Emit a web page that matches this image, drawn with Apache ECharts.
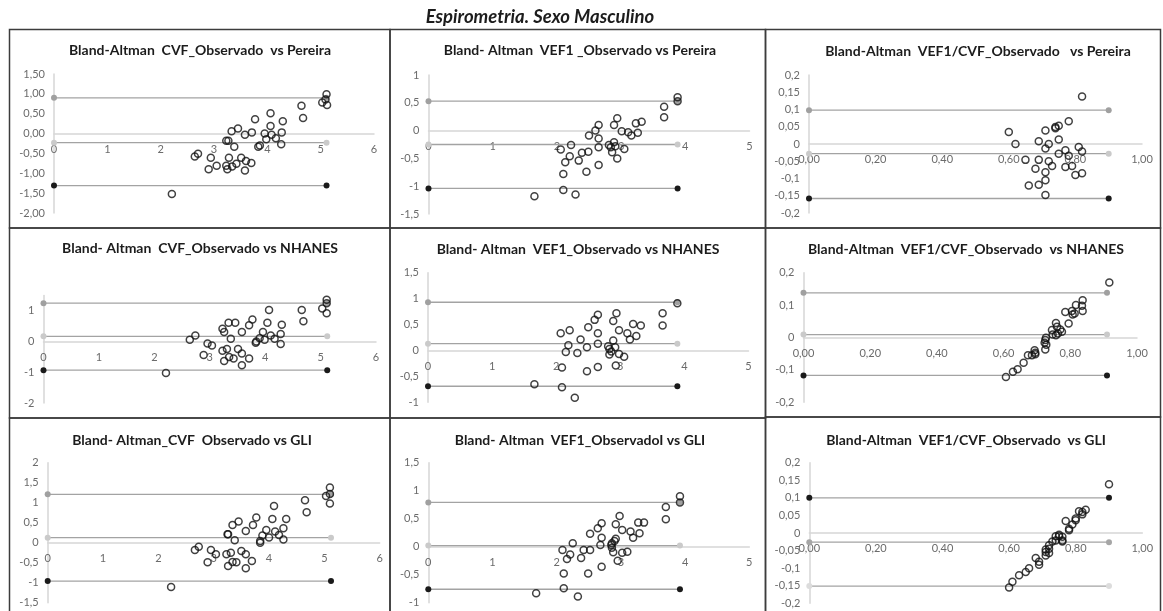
<!DOCTYPE html>
<html lang="es">
<head>
<meta charset="UTF-8">
<title>Espirometria. Sexo Masculino</title>
<script src="https://cdn.jsdelivr.net/npm/echarts@6/dist/echarts.min.js"></script>
<style>
  body { margin: 0; background: #fff; }
  #chart { width: 1163px; height: 611px; }
</style>
</head>
<body>
<div id="chart"></div>
<script>
// diferencias (x = media, y = diferencia)
const cvfPereira = [[5.11,0.99],[5.09,0.86],[5.03,0.78],[5.12,0.72],[4.64,0.70],[4.67,0.39],[4.06,0.51],[3.77,0.36],[4.29,0.31],[4.06,0.19],[3.45,0.13],[3.33,0.06],[3.71,0.03],[3.58,-0.03],[3.95,0.00],[4.08,-0.03],[4.27,0.03],[3.98,-0.14],[4.16,-0.12],[4.26,-0.27],[3.23,-0.18],[3.27,-0.18],[3.38,-0.33],[3.83,-0.33],[3.86,-0.30],[2.70,-0.51],[2.64,-0.58],[2.94,-0.61],[3.28,-0.61],[3.51,-0.61],[3.60,-0.69],[3.70,-0.74],[3.42,-0.76],[3.34,-0.83],[3.23,-0.81],[3.05,-0.81],[2.90,-0.90],[3.25,-0.90],[3.58,-0.93],[2.21,-1.52]];
const vef1Pereira = [[3.88,0.60],[3.88,0.53],[3.67,0.43],[3.67,0.24],[3.32,0.16],[3.23,0.13],[2.94,0.22],[2.89,0.10],[2.65,0.10],[2.60,0.00],[3.01,-0.01],[3.11,-0.03],[3.26,-0.04],[3.16,-0.09],[2.50,-0.09],[2.65,-0.14],[2.89,-0.21],[2.65,-0.30],[2.81,-0.26],[2.84,-0.30],[2.91,-0.28],[3.05,-0.33],[2.86,-0.39],[2.94,-0.50],[2.22,-0.26],[2.06,-0.34],[2.49,-0.38],[2.39,-0.40],[2.20,-0.46],[2.13,-0.57],[2.34,-0.54],[2.65,-0.62],[2.46,-0.74],[2.10,-0.78],[2.10,-1.07],[2.29,-1.15],[1.65,-1.18]];
const ratioPereira = [[0.82,0.138],[0.78,0.066],[0.75,0.053],[0.74,0.049],[0.74,0.046],[0.71,0.039],[0.60,0.035],[0.75,0.013],[0.69,0.008],[0.72,0.000],[0.62,0.000],[0.71,-0.013],[0.77,-0.018],[0.81,-0.009],[0.82,-0.022],[0.75,-0.028],[0.78,-0.034],[0.72,-0.050],[0.65,-0.046],[0.69,-0.046],[0.73,-0.064],[0.79,-0.064],[0.77,-0.067],[0.68,-0.072],[0.71,-0.082],[0.82,-0.085],[0.80,-0.090],[0.71,-0.105],[0.69,-0.118],[0.66,-0.120],[0.71,-0.148]];
const cvfNhanes = [[5.11,1.36],[5.11,1.25],[5.03,1.08],[5.11,0.92],[4.66,1.03],[4.69,0.66],[4.07,1.03],[3.77,0.72],[3.71,0.53],[4.04,0.61],[4.30,0.55],[3.34,0.61],[3.46,0.61],[3.23,0.42],[3.26,0.31],[3.58,0.31],[3.38,0.09],[3.96,0.31],[4.10,0.20],[4.28,0.25],[4.17,0.09],[3.99,0.06],[3.90,0.11],[3.83,-0.04],[3.84,0.00],[4.28,-0.08],[2.74,0.20],[2.64,0.06],[2.96,-0.06],[3.04,-0.13],[2.89,-0.44],[3.23,-0.30],[3.31,-0.24],[3.51,-0.24],[3.58,-0.39],[3.35,-0.50],[3.43,-0.55],[3.71,-0.55],[3.26,-0.63],[3.58,-0.77],[2.21,-1.02]];
const vef1Nhanes = [[3.89,0.91],[3.66,0.72],[3.66,0.48],[3.32,0.48],[3.20,0.51],[2.94,0.72],[2.89,0.57],[2.65,0.69],[2.60,0.59],[2.50,0.45],[2.65,0.33],[2.98,0.39],[3.11,0.33],[3.25,0.28],[3.15,0.21],[2.89,0.19],[2.65,0.13],[2.38,0.21],[2.21,0.39],[2.07,0.33],[2.19,0.10],[2.15,-0.03],[2.33,-0.05],[2.48,0.06],[2.81,0.08],[2.83,0.03],[2.86,-0.02],[2.92,0.06],[2.83,-0.08],[2.98,-0.07],[3.06,-0.12],[2.93,-0.29],[2.65,-0.32],[2.09,-0.33],[2.48,-0.40],[1.66,-0.65],[2.09,-0.71],[2.29,-0.91]];
const ratioNhanes = [[0.917,0.170],[0.837,0.115],[0.817,0.100],[0.835,0.098],[0.837,0.082],[0.805,0.082],[0.807,0.071],[0.785,0.079],[0.813,0.074],[0.795,0.043],[0.757,0.045],[0.770,0.025],[0.745,0.023],[0.775,0.018],[0.763,0.012],[0.757,0.007],[0.747,0.009],[0.727,-0.001],[0.725,-0.008],[0.723,-0.016],[0.728,-0.022],[0.725,-0.037],[0.693,-0.039],[0.695,-0.052],[0.685,-0.055],[0.673,-0.055],[0.660,-0.078],[0.642,-0.098],[0.628,-0.106],[0.607,-0.122],[0.695,-0.047],[0.760,0.033]];
const cvfGli = [[5.10,1.38],[5.03,1.17],[5.10,1.22],[5.10,0.98],[4.65,1.06],[4.68,0.76],[4.09,0.92],[4.06,0.59],[4.31,0.59],[3.77,0.63],[3.71,0.44],[3.95,0.32],[4.26,0.36],[4.11,0.28],[4.18,0.19],[4.26,0.08],[4.00,0.13],[3.88,0.18],[3.84,0.04],[3.84,0.00],[3.45,0.53],[3.34,0.44],[3.58,0.29],[3.25,0.21],[3.26,0.21],[3.38,0.06],[2.73,-0.10],[2.66,-0.18],[2.95,-0.18],[3.04,-0.29],[2.89,-0.49],[3.23,-0.29],[3.31,-0.25],[3.50,-0.21],[3.58,-0.29],[3.34,-0.48],[3.41,-0.49],[3.69,-0.46],[3.26,-0.58],[3.58,-0.64],[2.23,-1.11]];
const vef1Gli = [[3.92,0.90],[3.92,0.79],[3.70,0.71],[3.70,0.49],[3.36,0.43],[3.27,0.43],[3.29,0.24],[3.19,0.16],[3.15,0.27],[3.02,0.30],[2.98,0.55],[2.92,0.40],[2.92,0.14],[2.90,0.10],[2.86,0.06],[2.85,0.03],[2.86,-0.02],[2.88,-0.10],[2.95,-0.25],[3.02,-0.11],[3.10,-0.09],[2.70,0.42],[2.64,0.33],[2.70,0.16],[2.68,0.03],[2.70,-0.36],[2.52,0.23],[2.52,-0.06],[2.42,-0.06],[2.38,-0.20],[2.25,0.06],[2.21,-0.14],[2.16,-0.22],[2.09,-0.06],[2.11,-0.48],[2.49,-0.48],[2.11,-0.74],[2.33,-0.89],[1.68,-0.83]];
const ratioGli = [[0.90,0.139],[0.83,0.066],[0.82,0.060],[0.81,0.062],[0.82,0.053],[0.80,0.041],[0.80,0.036],[0.77,0.034],[0.79,0.024],[0.78,0.012],[0.78,0.008],[0.75,-0.005],[0.75,-0.009],[0.74,-0.009],[0.76,-0.011],[0.74,-0.021],[0.76,-0.021],[0.76,-0.024],[0.73,-0.024],[0.72,-0.035],[0.72,-0.045],[0.71,-0.054],[0.71,-0.064],[0.71,-0.047],[0.68,-0.071],[0.69,-0.082],[0.69,-0.090],[0.66,-0.100],[0.65,-0.111],[0.63,-0.120],[0.61,-0.139],[0.60,-0.155],[0.72,-0.057]];

// limites de concordancia: [superior, media, inferior] y el x final de las lineas
const limitsCvfPereira = [0.90, -0.23, -1.31];
const limitsVef1Pereira = [0.53, -0.25, -1.04];
const limitsRatioPereira = [0.098, -0.028, -0.158];
const limitsCvfNhanes = [1.25, 0.17, -0.93];
const limitsVef1Nhanes = [0.93, 0.13, -0.69];
const limitsRatioNhanes = [0.138, 0.009, -0.117];
const limitsCvfGli = [1.21, 0.125, -0.96];
const limitsVef1Gli = [0.79, 0.02, -0.76];
const limitsRatioGli = [0.100, -0.026, -0.151];
const lineEnds = [5.11, 3.88, 0.90, 5.12, 3.89, 0.91, 5.12, 3.92, 0.90];

const titles = [
  'Bland-Altman  CVF_Observado  vs Pereira',
  'Bland- Altman  VEF1 _Observado vs Pereira',
  'Bland-Altman  VEF1/CVF_Observado   vs Pereira',
  'Bland- Altman  CVF_Observado vs NHANES',
  'Bland- Altman  VEF1_Observado vs NHANES',
  'Bland-Altman  VEF1/CVF_Observado  vs NHANES',
  'Bland- Altman_CVF  Observado vs GLI',
  'Bland- Altman  VEF1_ObservadoI vs GLI',
  'Bland-Altman  VEF1/CVF_Observado  vs GLI'
];

const points = [cvfPereira, vef1Pereira, ratioPereira, cvfNhanes, vef1Nhanes, ratioNhanes, cvfGli, vef1Gli, ratioGli];
const limits = [limitsCvfPereira, limitsVef1Pereira, limitsRatioPereira, limitsCvfNhanes, limitsVef1Nhanes, limitsRatioNhanes, limitsCvfGli, limitsVef1Gli, limitsRatioGli];

// ejes: [xMax, xInterval, xDecimals, yMin, yMax, yInterval, yDecimals]
const axes = [
  [6, 1, 0, -2, 1.5, 0.5, 2],
  [5, 1, 0, -1.5, 1, 0.5, null],
  [1, 0.2, 2, -0.2, 0.2, 0.05, null],
  [6, 1, 0, -2, 1.5, 1, null],
  [5, 1, 0, -1, 1.5, 0.5, null],
  [1, 0.2, 2, -0.2, 0.2, 0.1, null],
  [6, 1, 0, -1.5, 2, 0.5, null],
  [5, 1, 0, -1, 1.5, 0.5, null],
  [1, 0.2, 2, -0.2, 0.2, 0.05, null]
];

// posicion de cada area de trazado (px)
const plots = [
  [54, 74, 320, 139], [428.5, 75, 321, 139], [809, 75, 333, 138],
  [43.5, 295.5, 332.5, 107.5], [428, 272.7, 320.5, 129.6], [803.5, 272.7, 333.5, 129.6],
  [47.7, 462.7, 332, 140], [428.3, 462.7, 321, 140], [809.3, 462.7, 333, 140.6]
];
const titlePos = [[200, 50], [580, 50], [978, 51], [200, 248], [578, 249], [966, 249], [192, 440], [580, 440], [966, 440]];
const boxes = [
  [9.5, 29.5, 380.5, 198.5], [390, 29.5, 375.5, 198.5], [765.5, 29.5, 395, 198.5],
  [9.5, 228, 380.5, 190], [390, 228, 375.5, 190], [765.5, 228, 395, 189],
  [9.5, 418, 380.5, 200], [390, 418, 375.5, 200], [765.5, 417, 395, 200]
];

const markerColors = ['#a0a0a0', '#cacaca', '#1a1a1a'];
const markerColorsGliRatio = ['#1a1a1a', '#a6a6a6', '#dcdcdc'];

function comma(v, dec) {
  const s = dec != null ? v.toFixed(dec) : String(Math.round(v * 1000) / 1000);
  return s.replace('.', ',');
}

const chart = echarts.init(document.getElementById('chart'));
const grid = [], xAxis = [], yAxis = [], series = [], graphic = [];
const labelFont = { fontFamily: 'Lato', fontSize: 11, color: '#6b6b6b' };

points.forEach((pts, i) => {
  const [xMax, xInt, xDec, yMin, yMax, yInt, yDec] = axes[i];
  const p = plots[i];
  grid.push({ left: p[0], top: p[1], width: p[2], height: p[3] });
  // el eje x (linea y etiquetas) cruza en y = 0, como en Excel
  const zeroFromBottom = p[3] * (-yMin) / (yMax - yMin);
  xAxis.push({
    gridIndex: i, type: 'value', min: 0, max: xMax, interval: xInt,
    position: 'bottom', offset: -zeroFromBottom,
    axisLine: { onZero: false, lineStyle: { color: '#d6d6d6', width: 1.5 } },
    axisTick: { show: false }, splitLine: { show: false },
    axisLabel: Object.assign({ margin: 10, formatter: v => comma(v, xDec) }, labelFont)
  });
  yAxis.push({
    gridIndex: i, type: 'value', min: yMin, max: yMax, interval: yInt,
    axisLine: { show: true, onZero: false, lineStyle: { color: '#d6d6d6', width: 1.5 } },
    axisTick: { show: false }, splitLine: { show: false },
    axisLabel: Object.assign({ margin: 9, formatter: v => (i === 3 && v > 1.01) ? '' : comma(v, yDec) }, labelFont)
  });
  const colors = i === 8 ? markerColorsGliRatio : markerColors;
  limits[i].forEach((val, k) => {
    series.push({
      type: 'line', xAxisIndex: i, yAxisIndex: i,
      data: [[0, val], [lineEnds[i], val]],
      symbol: 'circle', symbolSize: 6, showSymbol: true,
      lineStyle: { color: '#a3a3a3', width: 1.3 },
      itemStyle: { color: colors[k] },
      z: 2, silent: true, animation: false
    });
  });
  series.push({
    type: 'scatter', xAxisIndex: i, yAxisIndex: i, data: pts,
    symbol: 'circle', symbolSize: 7,
    itemStyle: { color: 'rgba(255,255,255,0)', borderColor: '#111', borderWidth: 1.5 },
    z: 3, animation: false
  });
  graphic.push({
    type: 'text', x: titlePos[i][0], y: titlePos[i][1],
    style: { text: titles[i], fill: '#1c1c1c', font: 'bold 14px Lato', textAlign: 'center', textVerticalAlign: 'middle', verticalAlign: 'middle' }
  });
  const b = boxes[i];
  graphic.push({
    type: 'rect', shape: { x: b[0], y: b[1], width: b[2], height: b[3] },
    style: { fill: 'none', stroke: '#3c3c3c', lineWidth: 1.5 }, z: 10
  });
});

graphic.push({
  type: 'text', x: 540, y: 17,
  style: { text: 'Espirometria. Sexo Masculino', fill: '#1c1c1c', font: 'italic bold 18.5px Lato', textAlign: 'center', textVerticalAlign: 'middle', verticalAlign: 'middle' }
});

chart.setOption({
  animation: false,
  backgroundColor: '#fff',
  grid: grid, xAxis: xAxis, yAxis: yAxis, series: series, graphic: graphic
});
</script>
</body>
</html>
